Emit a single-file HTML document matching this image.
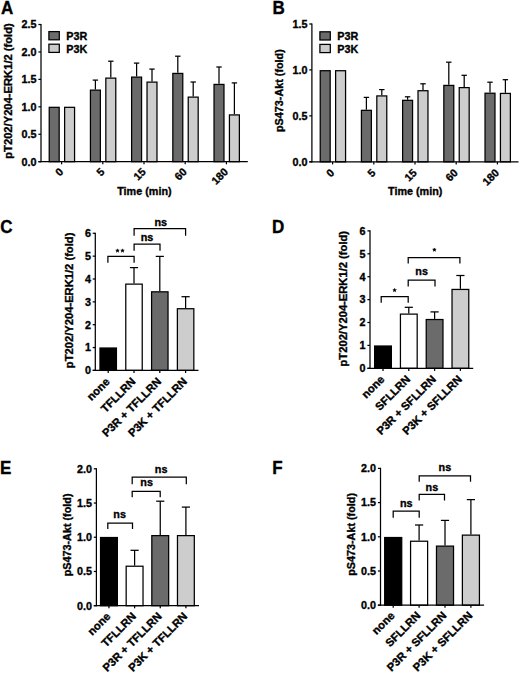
<!DOCTYPE html>
<html><head><meta charset="utf-8"><style>
html,body{margin:0;padding:0;background:#fff;}
body{width:520px;height:674px;overflow:hidden;}
svg{display:block;}
text{font-family:"Liberation Sans",sans-serif;fill:#000;stroke:#000;stroke-width:0.35px;}
</style></head><body>
<svg width="520" height="674" viewBox="0 0 520 674">
<rect width="520" height="674" fill="#fff"/>
<text x="0" y="0" font-size="17.62" text-anchor="start" font-weight="bold" transform="translate(1.00 13.60) scale(0.965 1)">A</text>
<text x="11.80" y="91.00" font-size="11.2" text-anchor="middle" font-weight="bold" transform="rotate(-90 11.80 91.00)">pT202/Y204-ERK1/2 (fold)</text>
<rect x="49.23" y="107.33" width="9.95" height="54.37" fill="#6b6b6b" stroke="#000" stroke-width="1.25"/>
<rect x="64.62" y="107.33" width="9.95" height="54.37" fill="#cdcdcd" stroke="#000" stroke-width="1.25"/>
<line x1="95.40" y1="80.10" x2="95.40" y2="89.50" stroke="#000" stroke-width="1.25"/>
<line x1="92.70" y1="80.10" x2="98.10" y2="80.10" stroke="#000" stroke-width="1.25"/>
<rect x="90.43" y="90.12" width="9.95" height="71.57" fill="#6b6b6b" stroke="#000" stroke-width="1.25"/>
<line x1="110.80" y1="61.20" x2="110.80" y2="77.50" stroke="#000" stroke-width="1.25"/>
<line x1="108.10" y1="61.20" x2="113.50" y2="61.20" stroke="#000" stroke-width="1.25"/>
<rect x="105.83" y="78.12" width="9.95" height="83.57" fill="#cdcdcd" stroke="#000" stroke-width="1.25"/>
<line x1="136.60" y1="63.10" x2="136.60" y2="76.50" stroke="#000" stroke-width="1.25"/>
<line x1="133.90" y1="63.10" x2="139.30" y2="63.10" stroke="#000" stroke-width="1.25"/>
<rect x="131.62" y="77.12" width="9.95" height="84.57" fill="#6b6b6b" stroke="#000" stroke-width="1.25"/>
<line x1="152.00" y1="69.10" x2="152.00" y2="81.50" stroke="#000" stroke-width="1.25"/>
<line x1="149.30" y1="69.10" x2="154.70" y2="69.10" stroke="#000" stroke-width="1.25"/>
<rect x="147.03" y="82.12" width="9.95" height="79.57" fill="#cdcdcd" stroke="#000" stroke-width="1.25"/>
<line x1="177.80" y1="56.20" x2="177.80" y2="72.80" stroke="#000" stroke-width="1.25"/>
<line x1="175.10" y1="56.20" x2="180.50" y2="56.20" stroke="#000" stroke-width="1.25"/>
<rect x="172.83" y="73.42" width="9.95" height="88.27" fill="#6b6b6b" stroke="#000" stroke-width="1.25"/>
<line x1="193.20" y1="82.00" x2="193.20" y2="96.50" stroke="#000" stroke-width="1.25"/>
<line x1="190.50" y1="82.00" x2="195.90" y2="82.00" stroke="#000" stroke-width="1.25"/>
<rect x="188.23" y="97.12" width="9.95" height="64.57" fill="#cdcdcd" stroke="#000" stroke-width="1.25"/>
<line x1="219.00" y1="67.00" x2="219.00" y2="83.80" stroke="#000" stroke-width="1.25"/>
<line x1="216.30" y1="67.00" x2="221.70" y2="67.00" stroke="#000" stroke-width="1.25"/>
<rect x="214.03" y="84.42" width="9.95" height="77.27" fill="#6b6b6b" stroke="#000" stroke-width="1.25"/>
<line x1="234.40" y1="82.90" x2="234.40" y2="114.30" stroke="#000" stroke-width="1.25"/>
<line x1="231.70" y1="82.90" x2="237.10" y2="82.90" stroke="#000" stroke-width="1.25"/>
<rect x="229.43" y="114.92" width="9.95" height="46.77" fill="#cdcdcd" stroke="#000" stroke-width="1.25"/>
<line x1="41.00" y1="23.90" x2="41.00" y2="162.30" stroke="#000" stroke-width="1.25"/>
<line x1="38.40" y1="161.70" x2="41.00" y2="161.70" stroke="#000" stroke-width="1.25"/>
<text x="0" y="0" font-size="11.19" text-anchor="end" font-weight="bold" transform="translate(36.60 165.55) scale(0.965 1)">0.0</text>
<line x1="38.40" y1="134.26" x2="41.00" y2="134.26" stroke="#000" stroke-width="1.25"/>
<text x="0" y="0" font-size="11.19" text-anchor="end" font-weight="bold" transform="translate(36.60 138.11) scale(0.965 1)">0.5</text>
<line x1="38.40" y1="106.82" x2="41.00" y2="106.82" stroke="#000" stroke-width="1.25"/>
<text x="0" y="0" font-size="11.19" text-anchor="end" font-weight="bold" transform="translate(36.60 110.67) scale(0.965 1)">1.0</text>
<line x1="38.40" y1="79.38" x2="41.00" y2="79.38" stroke="#000" stroke-width="1.25"/>
<text x="0" y="0" font-size="11.19" text-anchor="end" font-weight="bold" transform="translate(36.60 83.23) scale(0.965 1)">1.5</text>
<line x1="38.40" y1="51.94" x2="41.00" y2="51.94" stroke="#000" stroke-width="1.25"/>
<text x="0" y="0" font-size="11.19" text-anchor="end" font-weight="bold" transform="translate(36.60 55.79) scale(0.965 1)">2.0</text>
<line x1="38.40" y1="24.50" x2="41.00" y2="24.50" stroke="#000" stroke-width="1.25"/>
<text x="0" y="0" font-size="11.19" text-anchor="end" font-weight="bold" transform="translate(36.60 28.35) scale(0.965 1)">2.5</text>
<line x1="38.40" y1="161.70" x2="247.80" y2="161.70" stroke="#000" stroke-width="1.25"/>
<line x1="61.60" y1="161.70" x2="61.60" y2="164.30" stroke="#000" stroke-width="1.25"/>
<line x1="102.80" y1="161.70" x2="102.80" y2="164.30" stroke="#000" stroke-width="1.25"/>
<line x1="144.00" y1="161.70" x2="144.00" y2="164.30" stroke="#000" stroke-width="1.25"/>
<line x1="185.20" y1="161.70" x2="185.20" y2="164.30" stroke="#000" stroke-width="1.25"/>
<line x1="226.40" y1="161.70" x2="226.40" y2="164.30" stroke="#000" stroke-width="1.25"/>
<text x="64.00" y="172.60" font-size="10.8" text-anchor="end" font-weight="bold" transform="rotate(-45 64.00 172.60)">0</text>
<text x="105.20" y="172.60" font-size="10.8" text-anchor="end" font-weight="bold" transform="rotate(-45 105.20 172.60)">5</text>
<text x="146.40" y="172.60" font-size="10.8" text-anchor="end" font-weight="bold" transform="rotate(-45 146.40 172.60)">15</text>
<text x="187.60" y="172.60" font-size="10.8" text-anchor="end" font-weight="bold" transform="rotate(-45 187.60 172.60)">60</text>
<text x="228.80" y="172.60" font-size="10.8" text-anchor="end" font-weight="bold" transform="rotate(-45 228.80 172.60)">180</text>
<text x="0" y="0" font-size="11.19" text-anchor="middle" font-weight="bold" transform="translate(144.40 195.30) scale(0.965 1)">Time (min)</text>
<rect x="48.90" y="31.60" width="10.4" height="8.2" fill="#6b6b6b" stroke="#000" stroke-width="1.25"/>
<rect x="48.90" y="44.20" width="10.4" height="8.2" fill="#cdcdcd" stroke="#000" stroke-width="1.25"/>
<text x="0" y="0" font-size="11.19" text-anchor="start" font-weight="bold" transform="translate(66.30 40.10) scale(0.965 1)">P3R</text>
<text x="0" y="0" font-size="11.19" text-anchor="start" font-weight="bold" transform="translate(66.30 52.70) scale(0.965 1)">P3K</text>
<text x="0" y="0" font-size="17.62" text-anchor="start" font-weight="bold" transform="translate(272.60 13.60) scale(0.965 1)">B</text>
<text x="283.00" y="90.60" font-size="10.8" text-anchor="middle" font-weight="bold" transform="rotate(-90 283.00 90.60)">pS473-Akt (fold)</text>
<rect x="320.23" y="70.72" width="9.95" height="91.08" fill="#6b6b6b" stroke="#000" stroke-width="1.25"/>
<rect x="335.62" y="70.72" width="9.95" height="91.08" fill="#cdcdcd" stroke="#000" stroke-width="1.25"/>
<line x1="366.40" y1="97.40" x2="366.40" y2="109.70" stroke="#000" stroke-width="1.25"/>
<line x1="363.70" y1="97.40" x2="369.10" y2="97.40" stroke="#000" stroke-width="1.25"/>
<rect x="361.43" y="110.33" width="9.95" height="51.48" fill="#6b6b6b" stroke="#000" stroke-width="1.25"/>
<line x1="381.80" y1="89.60" x2="381.80" y2="95.30" stroke="#000" stroke-width="1.25"/>
<line x1="379.10" y1="89.60" x2="384.50" y2="89.60" stroke="#000" stroke-width="1.25"/>
<rect x="376.82" y="95.92" width="9.95" height="65.88" fill="#cdcdcd" stroke="#000" stroke-width="1.25"/>
<line x1="407.60" y1="96.80" x2="407.60" y2="99.70" stroke="#000" stroke-width="1.25"/>
<line x1="404.90" y1="96.80" x2="410.30" y2="96.80" stroke="#000" stroke-width="1.25"/>
<rect x="402.62" y="100.33" width="9.95" height="61.48" fill="#6b6b6b" stroke="#000" stroke-width="1.25"/>
<line x1="423.00" y1="83.80" x2="423.00" y2="90.10" stroke="#000" stroke-width="1.25"/>
<line x1="420.30" y1="83.80" x2="425.70" y2="83.80" stroke="#000" stroke-width="1.25"/>
<rect x="418.02" y="90.72" width="9.95" height="71.08" fill="#cdcdcd" stroke="#000" stroke-width="1.25"/>
<line x1="448.80" y1="62.20" x2="448.80" y2="84.80" stroke="#000" stroke-width="1.25"/>
<line x1="446.10" y1="62.20" x2="451.50" y2="62.20" stroke="#000" stroke-width="1.25"/>
<rect x="443.83" y="85.42" width="9.95" height="76.38" fill="#6b6b6b" stroke="#000" stroke-width="1.25"/>
<line x1="464.20" y1="75.30" x2="464.20" y2="87.00" stroke="#000" stroke-width="1.25"/>
<line x1="461.50" y1="75.30" x2="466.90" y2="75.30" stroke="#000" stroke-width="1.25"/>
<rect x="459.23" y="87.62" width="9.95" height="74.18" fill="#cdcdcd" stroke="#000" stroke-width="1.25"/>
<line x1="490.00" y1="82.20" x2="490.00" y2="92.60" stroke="#000" stroke-width="1.25"/>
<line x1="487.30" y1="82.20" x2="492.70" y2="82.20" stroke="#000" stroke-width="1.25"/>
<rect x="485.03" y="93.22" width="9.95" height="68.58" fill="#6b6b6b" stroke="#000" stroke-width="1.25"/>
<line x1="505.40" y1="79.70" x2="505.40" y2="92.80" stroke="#000" stroke-width="1.25"/>
<line x1="502.70" y1="79.70" x2="508.10" y2="79.70" stroke="#000" stroke-width="1.25"/>
<rect x="500.43" y="93.42" width="9.95" height="68.38" fill="#cdcdcd" stroke="#000" stroke-width="1.25"/>
<line x1="311.90" y1="23.40" x2="311.90" y2="162.40" stroke="#000" stroke-width="1.25"/>
<line x1="309.30" y1="161.80" x2="311.90" y2="161.80" stroke="#000" stroke-width="1.25"/>
<text x="0" y="0" font-size="11.19" text-anchor="end" font-weight="bold" transform="translate(307.50 165.65) scale(0.965 1)">0.0</text>
<line x1="309.30" y1="115.87" x2="311.90" y2="115.87" stroke="#000" stroke-width="1.25"/>
<text x="0" y="0" font-size="11.19" text-anchor="end" font-weight="bold" transform="translate(307.50 119.72) scale(0.965 1)">0.5</text>
<line x1="309.30" y1="69.93" x2="311.90" y2="69.93" stroke="#000" stroke-width="1.25"/>
<text x="0" y="0" font-size="11.19" text-anchor="end" font-weight="bold" transform="translate(307.50 73.78) scale(0.965 1)">1.0</text>
<line x1="309.30" y1="24.00" x2="311.90" y2="24.00" stroke="#000" stroke-width="1.25"/>
<text x="0" y="0" font-size="11.19" text-anchor="end" font-weight="bold" transform="translate(307.50 27.85) scale(0.965 1)">1.5</text>
<line x1="309.30" y1="161.80" x2="518.50" y2="161.80" stroke="#000" stroke-width="1.25"/>
<line x1="332.60" y1="161.80" x2="332.60" y2="164.40" stroke="#000" stroke-width="1.25"/>
<line x1="373.80" y1="161.80" x2="373.80" y2="164.40" stroke="#000" stroke-width="1.25"/>
<line x1="415.00" y1="161.80" x2="415.00" y2="164.40" stroke="#000" stroke-width="1.25"/>
<line x1="456.20" y1="161.80" x2="456.20" y2="164.40" stroke="#000" stroke-width="1.25"/>
<line x1="497.40" y1="161.80" x2="497.40" y2="164.40" stroke="#000" stroke-width="1.25"/>
<text x="335.00" y="173.50" font-size="10.8" text-anchor="end" font-weight="bold" transform="rotate(-45 335.00 173.50)">0</text>
<text x="376.20" y="173.50" font-size="10.8" text-anchor="end" font-weight="bold" transform="rotate(-45 376.20 173.50)">5</text>
<text x="417.40" y="173.50" font-size="10.8" text-anchor="end" font-weight="bold" transform="rotate(-45 417.40 173.50)">15</text>
<text x="458.60" y="173.50" font-size="10.8" text-anchor="end" font-weight="bold" transform="rotate(-45 458.60 173.50)">60</text>
<text x="499.80" y="173.50" font-size="10.8" text-anchor="end" font-weight="bold" transform="rotate(-45 499.80 173.50)">180</text>
<text x="0" y="0" font-size="11.19" text-anchor="middle" font-weight="bold" transform="translate(415.20 195.40) scale(0.965 1)">Time (min)</text>
<rect x="319.90" y="31.80" width="10.4" height="8.2" fill="#6b6b6b" stroke="#000" stroke-width="1.25"/>
<rect x="319.90" y="44.40" width="10.4" height="8.2" fill="#cdcdcd" stroke="#000" stroke-width="1.25"/>
<text x="0" y="0" font-size="11.19" text-anchor="start" font-weight="bold" transform="translate(337.30 40.30) scale(0.965 1)">P3R</text>
<text x="0" y="0" font-size="11.19" text-anchor="start" font-weight="bold" transform="translate(337.30 52.90) scale(0.965 1)">P3K</text>
<text x="0" y="0" font-size="17.62" text-anchor="start" font-weight="bold" transform="translate(0.30 232.70) scale(0.965 1)">C</text>
<text x="72.80" y="300.40" font-size="11.2" text-anchor="middle" font-weight="bold" transform="rotate(-90 72.80 300.40)">pT202/Y204-ERK1/2 (fold)</text>
<rect x="99.98" y="348.02" width="16.45" height="22.38" fill="#000" stroke="#000" stroke-width="1.25"/>
<line x1="134.00" y1="267.60" x2="134.00" y2="283.50" stroke="#000" stroke-width="1.25"/>
<line x1="129.90" y1="267.60" x2="138.10" y2="267.60" stroke="#000" stroke-width="1.25"/>
<rect x="125.78" y="284.12" width="16.45" height="86.27" fill="#fff" stroke="#000" stroke-width="1.25"/>
<line x1="159.80" y1="256.40" x2="159.80" y2="291.20" stroke="#000" stroke-width="1.25"/>
<line x1="155.70" y1="256.40" x2="163.90" y2="256.40" stroke="#000" stroke-width="1.25"/>
<rect x="151.58" y="291.82" width="16.45" height="78.57" fill="#6b6b6b" stroke="#000" stroke-width="1.25"/>
<line x1="185.60" y1="296.70" x2="185.60" y2="308.10" stroke="#000" stroke-width="1.25"/>
<line x1="181.50" y1="296.70" x2="189.70" y2="296.70" stroke="#000" stroke-width="1.25"/>
<rect x="177.38" y="308.73" width="16.45" height="61.67" fill="#cdcdcd" stroke="#000" stroke-width="1.25"/>
<line x1="95.30" y1="232.70" x2="95.30" y2="371.00" stroke="#000" stroke-width="1.25"/>
<line x1="92.70" y1="370.40" x2="95.30" y2="370.40" stroke="#000" stroke-width="1.25"/>
<text x="0" y="0" font-size="11.19" text-anchor="end" font-weight="bold" transform="translate(90.90 374.25) scale(0.965 1)">0</text>
<line x1="92.70" y1="347.55" x2="95.30" y2="347.55" stroke="#000" stroke-width="1.25"/>
<text x="0" y="0" font-size="11.19" text-anchor="end" font-weight="bold" transform="translate(90.90 351.40) scale(0.965 1)">1</text>
<line x1="92.70" y1="324.70" x2="95.30" y2="324.70" stroke="#000" stroke-width="1.25"/>
<text x="0" y="0" font-size="11.19" text-anchor="end" font-weight="bold" transform="translate(90.90 328.55) scale(0.965 1)">2</text>
<line x1="92.70" y1="301.85" x2="95.30" y2="301.85" stroke="#000" stroke-width="1.25"/>
<text x="0" y="0" font-size="11.19" text-anchor="end" font-weight="bold" transform="translate(90.90 305.70) scale(0.965 1)">3</text>
<line x1="92.70" y1="279.00" x2="95.30" y2="279.00" stroke="#000" stroke-width="1.25"/>
<text x="0" y="0" font-size="11.19" text-anchor="end" font-weight="bold" transform="translate(90.90 282.85) scale(0.965 1)">4</text>
<line x1="92.70" y1="256.15" x2="95.30" y2="256.15" stroke="#000" stroke-width="1.25"/>
<text x="0" y="0" font-size="11.19" text-anchor="end" font-weight="bold" transform="translate(90.90 260.00) scale(0.965 1)">5</text>
<line x1="92.70" y1="233.30" x2="95.30" y2="233.30" stroke="#000" stroke-width="1.25"/>
<text x="0" y="0" font-size="11.19" text-anchor="end" font-weight="bold" transform="translate(90.90 237.15) scale(0.965 1)">6</text>
<line x1="92.70" y1="370.40" x2="198.50" y2="370.40" stroke="#000" stroke-width="1.25"/>
<line x1="108.20" y1="370.40" x2="108.20" y2="373.00" stroke="#000" stroke-width="1.25"/>
<line x1="134.00" y1="370.40" x2="134.00" y2="373.00" stroke="#000" stroke-width="1.25"/>
<line x1="159.80" y1="370.40" x2="159.80" y2="373.00" stroke="#000" stroke-width="1.25"/>
<line x1="185.60" y1="370.40" x2="185.60" y2="373.00" stroke="#000" stroke-width="1.25"/>
<text x="110.40" y="382.40" font-size="11.2" text-anchor="end" font-weight="bold" transform="rotate(-45 110.40 382.40)">none</text>
<text x="136.20" y="382.40" font-size="11.2" text-anchor="end" font-weight="bold" transform="rotate(-45 136.20 382.40)">TFLLRN</text>
<text x="162.00" y="382.40" font-size="11.2" text-anchor="end" font-weight="bold" transform="rotate(-45 162.00 382.40)">P3R + TFLLRN</text>
<text x="187.80" y="382.40" font-size="11.2" text-anchor="end" font-weight="bold" transform="rotate(-45 187.80 382.40)">P3K + TFLLRN</text>
<polyline points="107.90,262.80 107.90,256.40 134.10,256.40 134.10,262.80" fill="none" stroke="#000" stroke-width="1.25"/>
<polygon points="117.50,248.85 118.03,249.97 119.26,250.13 118.36,250.98 118.59,252.20 117.50,251.60 116.41,252.20 116.64,250.98 115.74,250.13 116.97,249.97" fill="#000" stroke="#000" stroke-width="0.5" stroke-linejoin="round"/>
<polygon points="122.50,248.85 123.03,249.97 124.26,250.13 123.36,250.98 123.59,252.20 122.50,251.60 121.41,252.20 121.64,250.98 120.74,250.13 121.97,249.97" fill="#000" stroke="#000" stroke-width="0.5" stroke-linejoin="round"/>
<polyline points="134.10,250.70 134.10,244.20 160.00,244.20 160.00,250.70" fill="none" stroke="#000" stroke-width="1.25"/>
<text x="0" y="0" font-size="11.19" text-anchor="middle" font-weight="bold" transform="translate(147.05 240.90) scale(0.965 1)">ns</text>
<polyline points="134.10,235.70 134.10,228.70 185.60,228.70 185.60,235.70" fill="none" stroke="#000" stroke-width="1.25"/>
<text x="0" y="0" font-size="11.19" text-anchor="middle" font-weight="bold" transform="translate(160.70 225.60) scale(0.965 1)">ns</text>
<text x="0" y="0" font-size="17.62" text-anchor="start" font-weight="bold" transform="translate(271.90 232.50) scale(0.965 1)">D</text>
<text x="347.50" y="298.70" font-size="11.2" text-anchor="middle" font-weight="bold" transform="rotate(-90 347.50 298.70)">pT202/Y204-ERK1/2 (fold)</text>
<rect x="374.62" y="346.02" width="16.75" height="22.28" fill="#000" stroke="#000" stroke-width="1.25"/>
<line x1="408.80" y1="307.30" x2="408.80" y2="313.50" stroke="#000" stroke-width="1.25"/>
<line x1="404.70" y1="307.30" x2="412.90" y2="307.30" stroke="#000" stroke-width="1.25"/>
<rect x="400.43" y="314.12" width="16.75" height="54.18" fill="#fff" stroke="#000" stroke-width="1.25"/>
<line x1="434.60" y1="311.90" x2="434.60" y2="318.90" stroke="#000" stroke-width="1.25"/>
<line x1="430.50" y1="311.90" x2="438.70" y2="311.90" stroke="#000" stroke-width="1.25"/>
<rect x="426.23" y="319.52" width="16.75" height="48.78" fill="#6b6b6b" stroke="#000" stroke-width="1.25"/>
<line x1="460.40" y1="275.50" x2="460.40" y2="288.80" stroke="#000" stroke-width="1.25"/>
<line x1="456.30" y1="275.50" x2="464.50" y2="275.50" stroke="#000" stroke-width="1.25"/>
<rect x="452.02" y="289.43" width="16.75" height="78.88" fill="#cdcdcd" stroke="#000" stroke-width="1.25"/>
<line x1="370.00" y1="230.30" x2="370.00" y2="368.90" stroke="#000" stroke-width="1.25"/>
<line x1="367.40" y1="368.30" x2="370.00" y2="368.30" stroke="#000" stroke-width="1.25"/>
<text x="0" y="0" font-size="11.19" text-anchor="end" font-weight="bold" transform="translate(365.60 372.15) scale(0.965 1)">0</text>
<line x1="367.40" y1="345.40" x2="370.00" y2="345.40" stroke="#000" stroke-width="1.25"/>
<text x="0" y="0" font-size="11.19" text-anchor="end" font-weight="bold" transform="translate(365.60 349.25) scale(0.965 1)">1</text>
<line x1="367.40" y1="322.50" x2="370.00" y2="322.50" stroke="#000" stroke-width="1.25"/>
<text x="0" y="0" font-size="11.19" text-anchor="end" font-weight="bold" transform="translate(365.60 326.35) scale(0.965 1)">2</text>
<line x1="367.40" y1="299.60" x2="370.00" y2="299.60" stroke="#000" stroke-width="1.25"/>
<text x="0" y="0" font-size="11.19" text-anchor="end" font-weight="bold" transform="translate(365.60 303.45) scale(0.965 1)">3</text>
<line x1="367.40" y1="276.70" x2="370.00" y2="276.70" stroke="#000" stroke-width="1.25"/>
<text x="0" y="0" font-size="11.19" text-anchor="end" font-weight="bold" transform="translate(365.60 280.55) scale(0.965 1)">4</text>
<line x1="367.40" y1="253.80" x2="370.00" y2="253.80" stroke="#000" stroke-width="1.25"/>
<text x="0" y="0" font-size="11.19" text-anchor="end" font-weight="bold" transform="translate(365.60 257.65) scale(0.965 1)">5</text>
<line x1="367.40" y1="230.90" x2="370.00" y2="230.90" stroke="#000" stroke-width="1.25"/>
<text x="0" y="0" font-size="11.19" text-anchor="end" font-weight="bold" transform="translate(365.60 234.75) scale(0.965 1)">6</text>
<line x1="367.40" y1="368.30" x2="473.20" y2="368.30" stroke="#000" stroke-width="1.25"/>
<line x1="383.00" y1="368.30" x2="383.00" y2="370.90" stroke="#000" stroke-width="1.25"/>
<line x1="408.80" y1="368.30" x2="408.80" y2="370.90" stroke="#000" stroke-width="1.25"/>
<line x1="434.60" y1="368.30" x2="434.60" y2="370.90" stroke="#000" stroke-width="1.25"/>
<line x1="460.40" y1="368.30" x2="460.40" y2="370.90" stroke="#000" stroke-width="1.25"/>
<text x="385.20" y="380.00" font-size="11.2" text-anchor="end" font-weight="bold" transform="rotate(-45 385.20 380.00)">none</text>
<text x="411.00" y="380.00" font-size="11.2" text-anchor="end" font-weight="bold" transform="rotate(-45 411.00 380.00)">SFLLRN</text>
<text x="436.80" y="380.00" font-size="11.2" text-anchor="end" font-weight="bold" transform="rotate(-45 436.80 380.00)">P3R + SFLLRN</text>
<text x="462.60" y="380.00" font-size="11.2" text-anchor="end" font-weight="bold" transform="rotate(-45 462.60 380.00)">P3K + SFLLRN</text>
<polyline points="381.20,302.80 381.20,296.70 408.20,296.70 408.20,302.80" fill="none" stroke="#000" stroke-width="1.25"/>
<polygon points="394.60,288.35 395.13,289.47 396.36,289.63 395.46,290.48 395.69,291.70 394.60,291.10 393.51,291.70 393.74,290.48 392.84,289.63 394.07,289.47" fill="#000" stroke="#000" stroke-width="0.5" stroke-linejoin="round"/>
<polyline points="408.20,286.60 408.20,280.10 435.00,280.10 435.00,286.60" fill="none" stroke="#000" stroke-width="1.25"/>
<text x="0" y="0" font-size="11.19" text-anchor="middle" font-weight="bold" transform="translate(421.60 275.00) scale(0.965 1)">ns</text>
<polyline points="408.20,263.60 408.20,257.50 459.90,257.50 459.90,263.60" fill="none" stroke="#000" stroke-width="1.25"/>
<polygon points="434.40,247.95 434.93,249.07 436.16,249.23 435.26,250.08 435.49,251.30 434.40,250.70 433.31,251.30 433.54,250.08 432.64,249.23 433.87,249.07" fill="#000" stroke="#000" stroke-width="0.5" stroke-linejoin="round"/>
<text x="0" y="0" font-size="17.62" text-anchor="start" font-weight="bold" transform="translate(0.10 473.80) scale(0.965 1)">E</text>
<text x="71.20" y="534.90" font-size="10.8" text-anchor="middle" font-weight="bold" transform="rotate(-90 71.20 534.90)">pS473-Akt (fold)</text>
<rect x="100.53" y="537.52" width="16.85" height="68.18" fill="#000" stroke="#000" stroke-width="1.25"/>
<line x1="134.60" y1="550.30" x2="134.60" y2="565.60" stroke="#000" stroke-width="1.25"/>
<line x1="130.50" y1="550.30" x2="138.70" y2="550.30" stroke="#000" stroke-width="1.25"/>
<rect x="126.17" y="566.23" width="16.85" height="39.48" fill="#fff" stroke="#000" stroke-width="1.25"/>
<line x1="160.25" y1="501.20" x2="160.25" y2="535.00" stroke="#000" stroke-width="1.25"/>
<line x1="156.15" y1="501.20" x2="164.35" y2="501.20" stroke="#000" stroke-width="1.25"/>
<rect x="151.82" y="535.62" width="16.85" height="70.08" fill="#6b6b6b" stroke="#000" stroke-width="1.25"/>
<line x1="185.90" y1="507.10" x2="185.90" y2="535.00" stroke="#000" stroke-width="1.25"/>
<line x1="181.80" y1="507.10" x2="190.00" y2="507.10" stroke="#000" stroke-width="1.25"/>
<rect x="177.47" y="535.62" width="16.85" height="70.08" fill="#cdcdcd" stroke="#000" stroke-width="1.25"/>
<line x1="96.40" y1="468.20" x2="96.40" y2="606.30" stroke="#000" stroke-width="1.25"/>
<line x1="93.80" y1="605.70" x2="96.40" y2="605.70" stroke="#000" stroke-width="1.25"/>
<text x="0" y="0" font-size="11.19" text-anchor="end" font-weight="bold" transform="translate(92.00 609.55) scale(0.965 1)">0.0</text>
<line x1="93.80" y1="571.48" x2="96.40" y2="571.48" stroke="#000" stroke-width="1.25"/>
<text x="0" y="0" font-size="11.19" text-anchor="end" font-weight="bold" transform="translate(92.00 575.33) scale(0.965 1)">0.5</text>
<line x1="93.80" y1="537.25" x2="96.40" y2="537.25" stroke="#000" stroke-width="1.25"/>
<text x="0" y="0" font-size="11.19" text-anchor="end" font-weight="bold" transform="translate(92.00 541.10) scale(0.965 1)">1.0</text>
<line x1="93.80" y1="503.03" x2="96.40" y2="503.03" stroke="#000" stroke-width="1.25"/>
<text x="0" y="0" font-size="11.19" text-anchor="end" font-weight="bold" transform="translate(92.00 506.88) scale(0.965 1)">1.5</text>
<line x1="93.80" y1="468.80" x2="96.40" y2="468.80" stroke="#000" stroke-width="1.25"/>
<text x="0" y="0" font-size="11.19" text-anchor="end" font-weight="bold" transform="translate(92.00 472.65) scale(0.965 1)">2.0</text>
<line x1="93.80" y1="605.70" x2="199.00" y2="605.70" stroke="#000" stroke-width="1.25"/>
<line x1="108.95" y1="605.70" x2="108.95" y2="608.30" stroke="#000" stroke-width="1.25"/>
<line x1="134.60" y1="605.70" x2="134.60" y2="608.30" stroke="#000" stroke-width="1.25"/>
<line x1="160.25" y1="605.70" x2="160.25" y2="608.30" stroke="#000" stroke-width="1.25"/>
<line x1="185.90" y1="605.70" x2="185.90" y2="608.30" stroke="#000" stroke-width="1.25"/>
<text x="111.15" y="617.10" font-size="11.2" text-anchor="end" font-weight="bold" transform="rotate(-45 111.15 617.10)">none</text>
<text x="136.80" y="617.10" font-size="11.2" text-anchor="end" font-weight="bold" transform="rotate(-45 136.80 617.10)">TFLLRN</text>
<text x="162.45" y="617.10" font-size="11.2" text-anchor="end" font-weight="bold" transform="rotate(-45 162.45 617.10)">P3R + TFLLRN</text>
<text x="188.10" y="617.10" font-size="11.2" text-anchor="end" font-weight="bold" transform="rotate(-45 188.10 617.10)">P3K + TFLLRN</text>
<polyline points="107.80,529.10 107.80,523.00 132.50,523.00 132.50,529.10" fill="none" stroke="#000" stroke-width="1.25"/>
<text x="0" y="0" font-size="11.19" text-anchor="middle" font-weight="bold" transform="translate(119.60 517.70) scale(0.965 1)">ns</text>
<polyline points="132.20,497.30 132.20,491.30 160.20,491.30 160.20,497.30" fill="none" stroke="#000" stroke-width="1.25"/>
<text x="0" y="0" font-size="11.19" text-anchor="middle" font-weight="bold" transform="translate(146.60 486.00) scale(0.965 1)">ns</text>
<polyline points="132.20,484.20 132.20,477.10 186.30,477.10 186.30,484.20" fill="none" stroke="#000" stroke-width="1.25"/>
<text x="0" y="0" font-size="11.19" text-anchor="middle" font-weight="bold" transform="translate(161.10 472.80) scale(0.965 1)">ns</text>
<text x="0" y="0" font-size="17.62" text-anchor="start" font-weight="bold" transform="translate(272.20 473.80) scale(0.965 1)">F</text>
<text x="355.00" y="534.40" font-size="10.8" text-anchor="middle" font-weight="bold" transform="rotate(-90 355.00 534.40)">pS473-Akt (fold)</text>
<rect x="384.68" y="537.52" width="17.05" height="67.68" fill="#000" stroke="#000" stroke-width="1.25"/>
<line x1="419.10" y1="525.00" x2="419.10" y2="540.60" stroke="#000" stroke-width="1.25"/>
<line x1="415.00" y1="525.00" x2="423.20" y2="525.00" stroke="#000" stroke-width="1.25"/>
<rect x="410.57" y="541.23" width="17.05" height="63.98" fill="#fff" stroke="#000" stroke-width="1.25"/>
<line x1="445.00" y1="520.40" x2="445.00" y2="545.50" stroke="#000" stroke-width="1.25"/>
<line x1="440.90" y1="520.40" x2="449.10" y2="520.40" stroke="#000" stroke-width="1.25"/>
<rect x="436.48" y="546.12" width="17.05" height="59.08" fill="#6b6b6b" stroke="#000" stroke-width="1.25"/>
<line x1="470.90" y1="499.60" x2="470.90" y2="534.50" stroke="#000" stroke-width="1.25"/>
<line x1="466.80" y1="499.60" x2="475.00" y2="499.60" stroke="#000" stroke-width="1.25"/>
<rect x="462.38" y="535.12" width="17.05" height="70.08" fill="#cdcdcd" stroke="#000" stroke-width="1.25"/>
<line x1="380.50" y1="467.80" x2="380.50" y2="605.80" stroke="#000" stroke-width="1.25"/>
<line x1="377.90" y1="605.20" x2="380.50" y2="605.20" stroke="#000" stroke-width="1.25"/>
<text x="0" y="0" font-size="11.19" text-anchor="end" font-weight="bold" transform="translate(376.10 609.05) scale(0.965 1)">0.0</text>
<line x1="377.90" y1="571.00" x2="380.50" y2="571.00" stroke="#000" stroke-width="1.25"/>
<text x="0" y="0" font-size="11.19" text-anchor="end" font-weight="bold" transform="translate(376.10 574.85) scale(0.965 1)">0.5</text>
<line x1="377.90" y1="536.80" x2="380.50" y2="536.80" stroke="#000" stroke-width="1.25"/>
<text x="0" y="0" font-size="11.19" text-anchor="end" font-weight="bold" transform="translate(376.10 540.65) scale(0.965 1)">1.0</text>
<line x1="377.90" y1="502.60" x2="380.50" y2="502.60" stroke="#000" stroke-width="1.25"/>
<text x="0" y="0" font-size="11.19" text-anchor="end" font-weight="bold" transform="translate(376.10 506.45) scale(0.965 1)">1.5</text>
<line x1="377.90" y1="468.40" x2="380.50" y2="468.40" stroke="#000" stroke-width="1.25"/>
<text x="0" y="0" font-size="11.19" text-anchor="end" font-weight="bold" transform="translate(376.10 472.25) scale(0.965 1)">2.0</text>
<line x1="377.90" y1="605.20" x2="484.10" y2="605.20" stroke="#000" stroke-width="1.25"/>
<line x1="393.20" y1="605.20" x2="393.20" y2="607.80" stroke="#000" stroke-width="1.25"/>
<line x1="419.10" y1="605.20" x2="419.10" y2="607.80" stroke="#000" stroke-width="1.25"/>
<line x1="445.00" y1="605.20" x2="445.00" y2="607.80" stroke="#000" stroke-width="1.25"/>
<line x1="470.90" y1="605.20" x2="470.90" y2="607.80" stroke="#000" stroke-width="1.25"/>
<text x="395.40" y="616.30" font-size="11.2" text-anchor="end" font-weight="bold" transform="rotate(-45 395.40 616.30)">none</text>
<text x="421.30" y="616.30" font-size="11.2" text-anchor="end" font-weight="bold" transform="rotate(-45 421.30 616.30)">SFLLRN</text>
<text x="447.20" y="616.30" font-size="11.2" text-anchor="end" font-weight="bold" transform="rotate(-45 447.20 616.30)">P3R + SFLLRN</text>
<text x="473.10" y="616.30" font-size="11.2" text-anchor="end" font-weight="bold" transform="rotate(-45 473.10 616.30)">P3K + SFLLRN</text>
<polyline points="393.20,517.70 393.20,511.20 419.20,511.20 419.20,517.70" fill="none" stroke="#000" stroke-width="1.25"/>
<text x="0" y="0" font-size="11.19" text-anchor="middle" font-weight="bold" transform="translate(406.20 506.50) scale(0.965 1)">ns</text>
<polyline points="419.20,500.40 419.20,494.30 444.50,494.30 444.50,500.40" fill="none" stroke="#000" stroke-width="1.25"/>
<text x="0" y="0" font-size="11.19" text-anchor="middle" font-weight="bold" transform="translate(431.85 491.10) scale(0.965 1)">ns</text>
<polyline points="419.20,481.80 419.20,475.80 470.50,475.80 470.50,481.80" fill="none" stroke="#000" stroke-width="1.25"/>
<text x="0" y="0" font-size="11.19" text-anchor="middle" font-weight="bold" transform="translate(444.85 471.00) scale(0.965 1)">ns</text>
</svg>
</body></html>
